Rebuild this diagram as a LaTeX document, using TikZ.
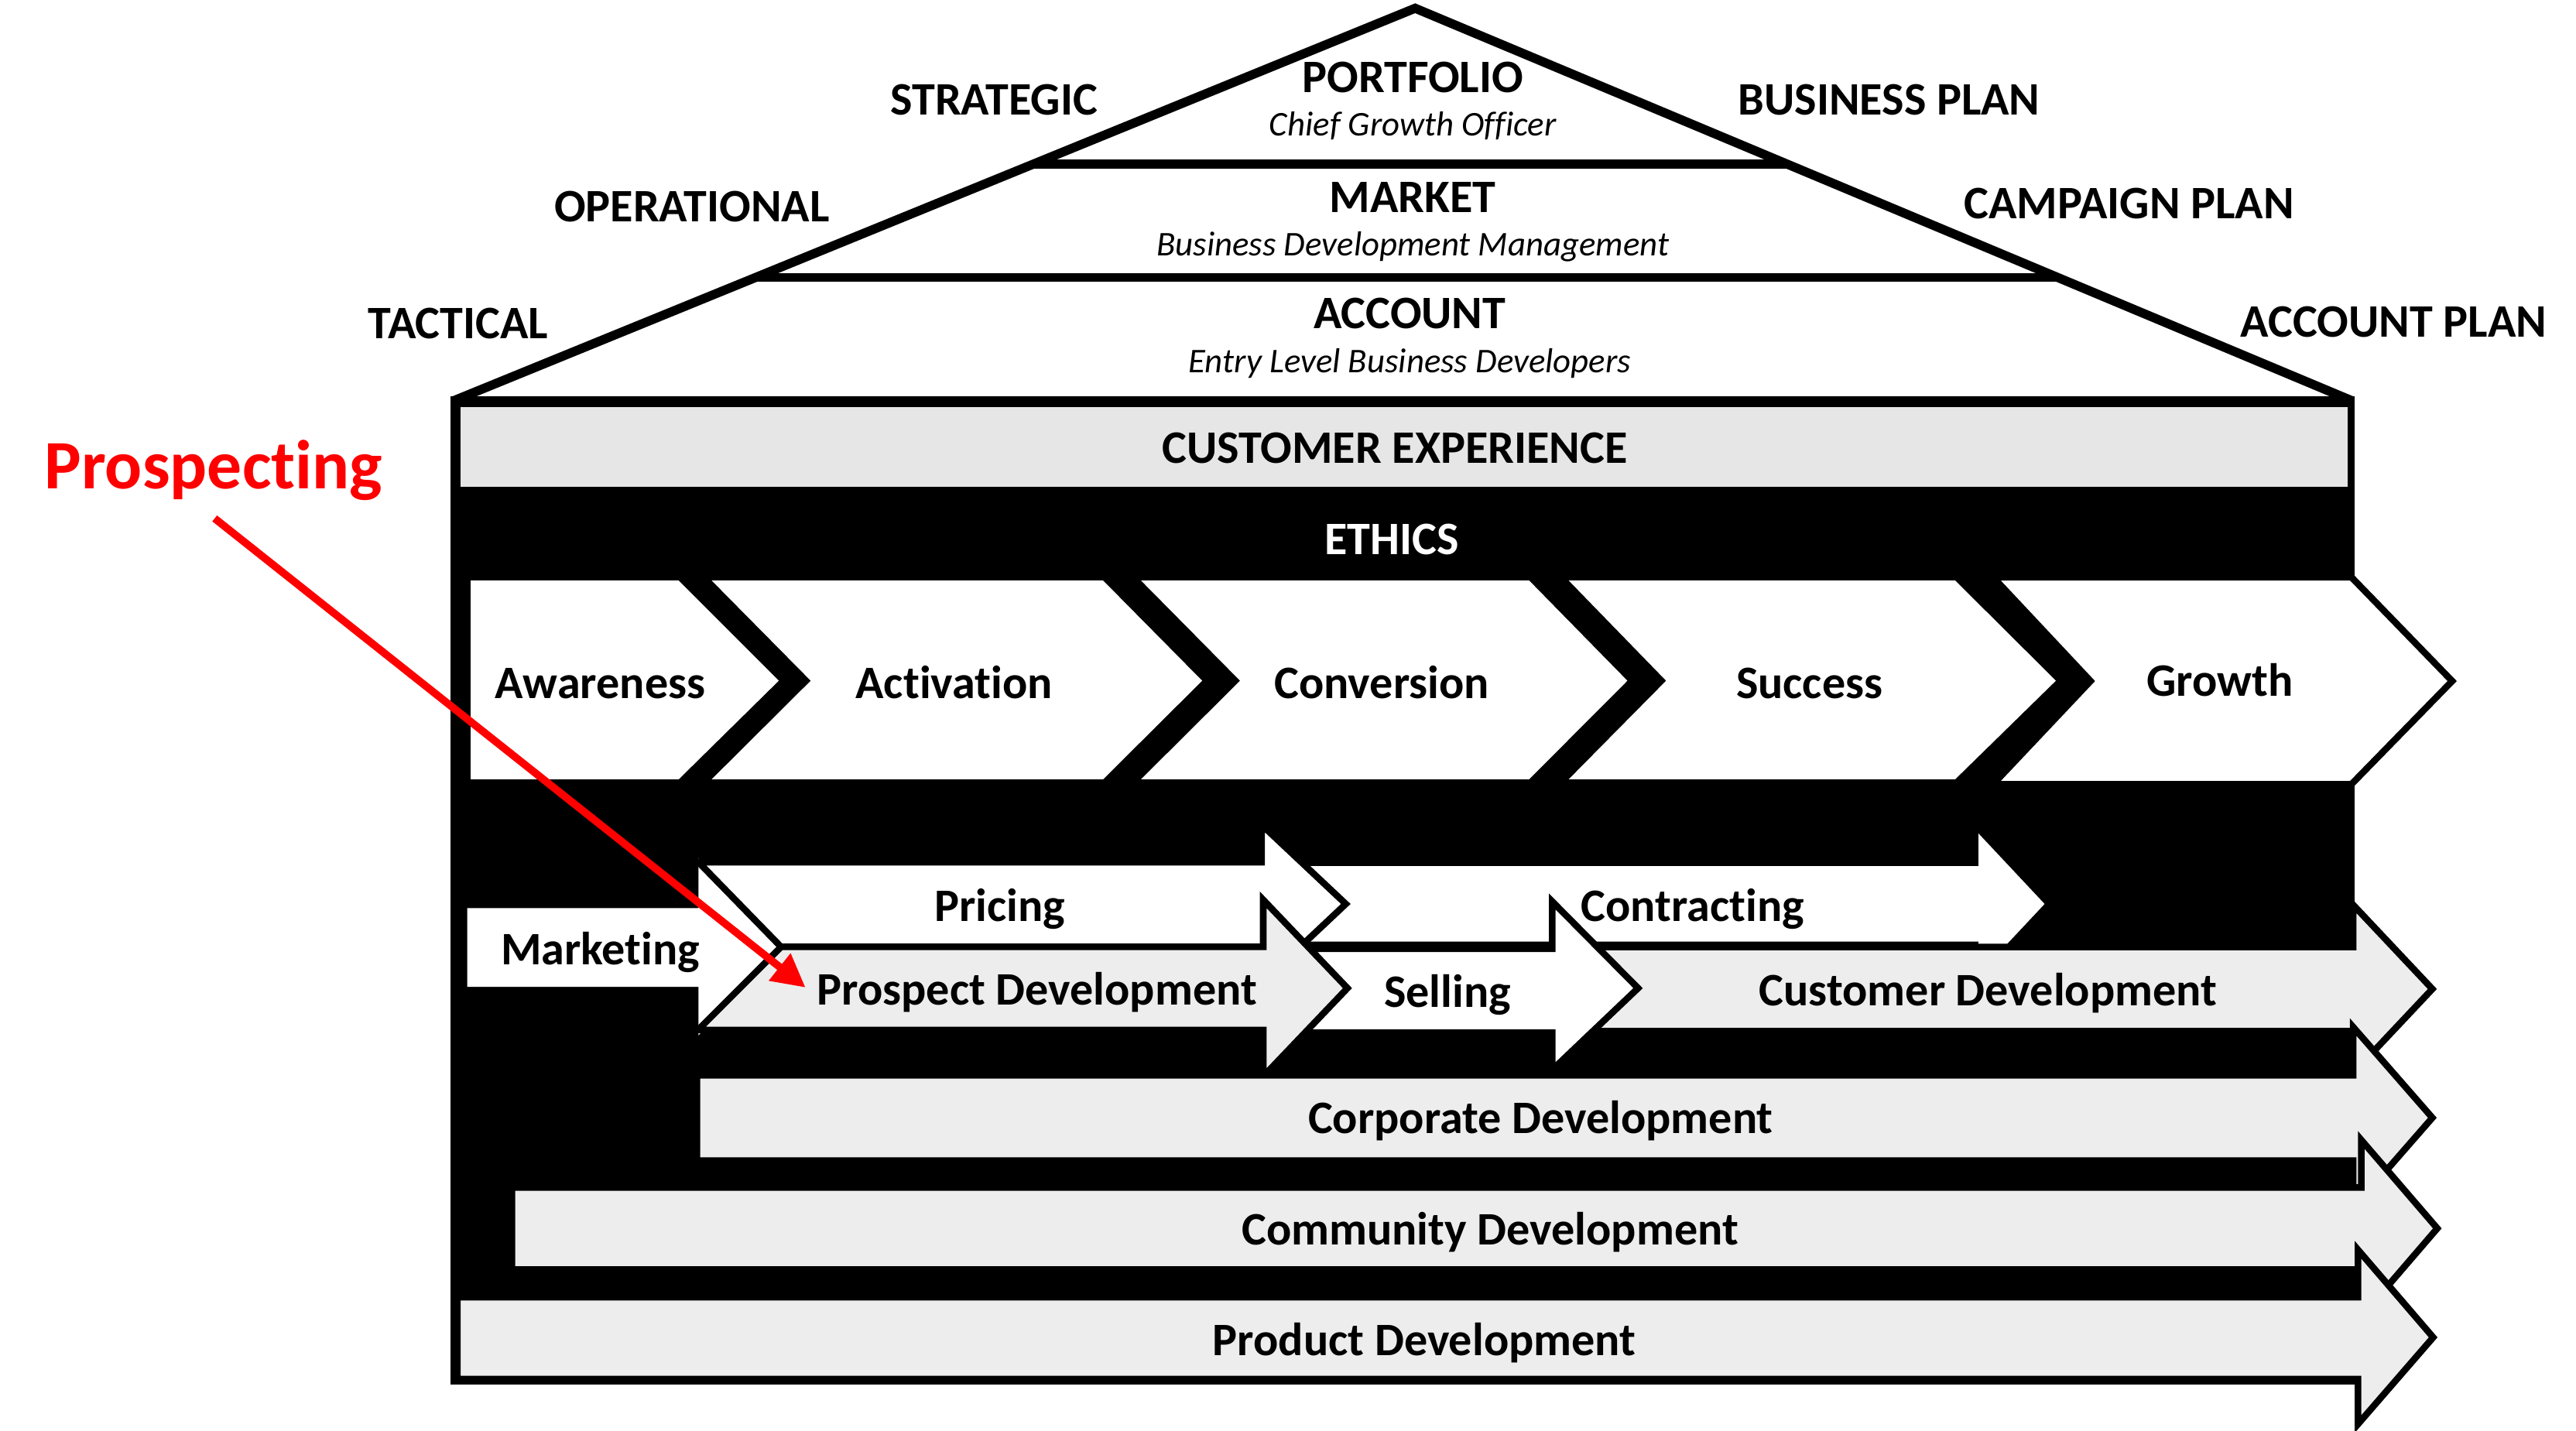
\documentclass[tikz,border=0pt]{standalone}
\usepackage{fontspec}
\setmainfont{Carlito}[Ligatures=NoCommon]
\usetikzlibrary{arrows.meta}
\definecolor{cegrey}{RGB}{231,230,230}
\definecolor{argrey}{RGB}{237,237,237}
\definecolor{pred}{RGB}{255,0,0}
\begin{document}
\begin{tikzpicture}[x=0.5pt,y=-0.5pt,
  roofline/.style={draw=black,line width=2.75pt,line join=miter},
  chevw/.style={fill=white},
  wshape/.style={fill=white,draw=black,line width=2pt,line join=miter},
  gshape/.style={fill=argrey,draw=black,line width=2pt,line join=miter},
  lbltxt/.style={font=\bfseries\fontsize{14.1}{17}\selectfont,inner sep=0pt,text height=9.1pt,text depth=0pt},
  subtxt/.style={font=\itshape\fontsize{10.5}{12}\selectfont,inner sep=0pt,text height=6.8pt,text depth=0pt},
  bigtxt/.style={font=\bfseries\fontsize{21}{24}\selectfont,inner sep=0pt,text height=13.5pt,text depth=0pt,text=pred},
  redarrow/.style={draw=pred,line width=2.3pt,-{Triangle[length=10pt,width=10pt]}}
]
\useasboundingbox (0,0) rectangle (1560,866.7);

% roof
\draw[roofline] (274,243) -- (857,5) -- (1425,243);
\draw[roofline] (625.5,99.5) -- (1082.5,99.5);
\draw[roofline] (457.7,168) -- (1246,168);

% body
\fill[black] (273,240) rectangle (1426,838.5);
\fill[cegrey] (279,246.4) rectangle (1421.5,294.7);

% stage chevrons
\fill[chevw] (285,351.6) -- (411,351.6) -- (471.6,412.3) -- (411,472) -- (285,472) -- cycle;
\fill[chevw] (431,351.6) -- (668,351.6) -- (728,412.3) -- (668,472) -- (431,472) -- (491,412.3) -- cycle;
\fill[chevw] (691,351.6) -- (926,351.6) -- (985.5,412.3) -- (926,472) -- (691,472) -- (751,412.3) -- cycle;
\fill[chevw] (950,351.6) -- (1184,351.6) -- (1245,412.3) -- (1184,472) -- (950,472) -- (1009,412.3) -- cycle;
\filldraw[wshape] (1207,349.6) -- (1424,349.6) -- (1485,412.5) -- (1424,475) -- (1207,475) -- (1266,412.5) -- cycle;

% process arrows
\fill[white] (283,550) -- (423,550) -- (423,520) -- (476,573.5) -- (423,627) -- (423,597.7) -- (283,597.7) -- cycle;
\filldraw[wshape] (775,522.5) -- (1196,522.5) -- (1196,499.5) -- (1241,547.5) -- (1196,595.5) -- (1196,572.3) -- (775,572.3) -- cycle;
\filldraw[wshape] (423,522.2) -- (764,522.2) -- (764,499.5) -- (815,547.5) -- (764,595.5) -- (764,573.5) -- (473,573.5) -- cycle;
\filldraw[gshape] (955,573.6) -- (1425,573.6) -- (1425,548) -- (1473,599) -- (1425,650) -- (1425,624.6) -- (955,624.6) -- cycle;
\filldraw[wshape] (780,574.6) -- (940,574.6) -- (940,546) -- (992,598.5) -- (940,648) -- (940,625.5) -- (780,625.5) -- cycle;
\filldraw[gshape] (473,573.5) -- (765,573.5) -- (765,545) -- (816,598.5) -- (765,652) -- (765,623.8) -- (422.7,623.8) -- cycle;
\filldraw[gshape] (422,651.3) -- (1425,651.3) -- (1425,622) -- (1473,677) -- (1425,732) -- (1425,703) -- (422,703) -- cycle;
\filldraw[gshape] (310,719.2) -- (1430,719.2) -- (1430,690.5) -- (1476,744) -- (1430,797.5) -- (1430,768.9) -- (310,768.9) -- cycle;
\filldraw[gshape] (277,785.7) -- (1428,785.7) -- (1428,757) -- (1473.5,810) -- (1428,862.5) -- (1428,835.2) -- (277,835.2) -- cycle;

% roof texts
\node[lbltxt] (strategic) at (602,60.7) {STRATEGIC};
\node[lbltxt] (operational) at (419,125.4) {OPERATIONAL};
\node[lbltxt] (tactical) at (277.6,196) {TACTICAL};
\node[lbltxt] (bplan) at (1144,60.7) {BUSINESS PLAN};
\node[lbltxt] (cplan) at (1289.4,123.4) {CAMPAIGN PLAN};
\node[lbltxt] (aplan) at (1449.6,195) {ACCOUNT PLAN};
\node[lbltxt] (portfolio) at (855.6,46.8) {PORTFOLIO};
\node[subtxt] (cgo) at (855.6,75.6) {Chief Growth Officer};
\node[lbltxt] (market) at (855.6,119.4) {MARKET};
\node[subtxt] (bdm) at (855.6,148.2) {Business Development Management};
\node[lbltxt] (account) at (853.7,190) {ACCOUNT};
\node[subtxt] (elbd) at (853.7,218.9) {Entry Level Business Developers};

% band texts
\node[lbltxt] (cx) at (844.7,271.6) {CUSTOMER EXPERIENCE};
\node[lbltxt,text=white] (ethics) at (842.7,326.6) {ETHICS};

% stages
\node[lbltxt] (awareness) at (363.5,414) {Awareness};
\node[lbltxt] (activation) at (577.8,414) {Activation};
\node[lbltxt] (conversion) at (836.8,414) {Conversion};
\node[lbltxt] (success) at (1095.8,414) {Success};
\node[lbltxt] (growth) at (1344.5,412.5) {Growth};

% process labels
\node[lbltxt] (pricing) at (605.5,549) {Pricing};
\node[lbltxt] (contracting) at (1025,549) {Contracting};
\node[lbltxt] (marketing) at (363.6,575.4) {Marketing};
\node[lbltxt] (prospectdev) at (628,599.5) {Prospect Development};
\node[lbltxt] (selling) at (876.6,601) {Selling};
\node[lbltxt] (customerdev) at (1204,600) {Customer Development};
\node[lbltxt] (corporatedev) at (933,677.6) {Corporate Development};
\node[lbltxt] (communitydev) at (902.4,745) {Community Development};
\node[lbltxt] (productdev) at (862.6,812) {Product Development};

% red annotation
\node[bigtxt] (prospecting) at (129.3,282.6) {Prospecting};
\coordinate (rstart) at (130,314);
\coordinate (rtip) at (487.8,598.1);
\draw[redarrow] (rstart) -- (rtip);
\end{tikzpicture}
\end{document}
